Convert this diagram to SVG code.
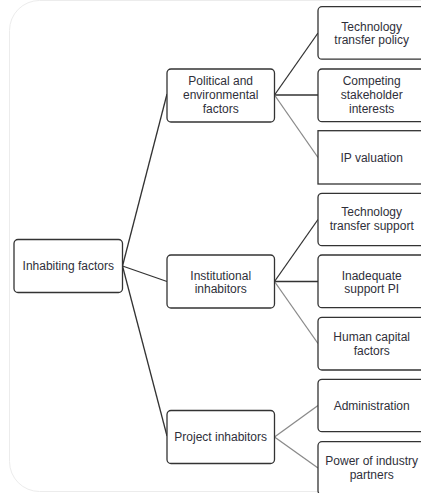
<svg xmlns="http://www.w3.org/2000/svg" width="421" height="493" viewBox="0 0 421 493">
  <style>
    .box { fill: #ffffff; stroke: #333333; stroke-width: 1.3; }
    .lbl { font-family: "Liberation Sans", Arial, sans-serif; font-size: 12px; fill: #2f2f3a; text-anchor: middle; }
    .dark { stroke: #333333; stroke-width: 1.3; fill: none; }
    .light { stroke: #8a8a8a; stroke-width: 1.3; fill: none; }
  </style>

  <!-- page card -->
  <rect x="0" y="0" width="421" height="493" fill="#ffffff"/>
  <rect x="9.5" y="0.5" width="440" height="491" rx="30" ry="30" fill="#ffffff" stroke="#ececec" stroke-width="1"/>

  <!-- connectors -->
  <g id="connectors">
    <line class="dark" x1="122.5" y1="266" x2="167" y2="94"/>
    <line class="dark" x1="122.5" y1="266" x2="167" y2="281.5"/>
    <line class="dark" x1="122.5" y1="266" x2="167" y2="436"/>

    <line class="dark" x1="274.5" y1="95" x2="318" y2="33"/>
    <line class="dark" x1="274.5" y1="95" x2="318" y2="95"/>
    <line class="light" x1="274.5" y1="95" x2="318" y2="157.5"/>

    <line class="dark" x1="274.5" y1="281.5" x2="318" y2="219.5"/>
    <line class="dark" x1="274.5" y1="281.5" x2="318" y2="281.5"/>
    <line class="light" x1="274.5" y1="281.5" x2="318" y2="343.5"/>

    <line class="light" x1="274.5" y1="437" x2="318" y2="405.5"/>
    <line class="light" x1="274.5" y1="437" x2="318" y2="468"/>
  </g>

  <!-- root -->
  <g id="inhabiting-factors">
    <rect class="box" x="14" y="239.5" width="108.5" height="53" rx="4"/>
    <text class="lbl" x="68.3" y="270">Inhabiting factors</text>
  </g>

  <!-- second level -->
  <g id="political-environmental">
    <rect class="box" x="167" y="69" width="107.5" height="53" rx="4"/>
    <text class="lbl" x="220.7" y="84.5">Political and</text>
    <text class="lbl" x="220.7" y="99">environmental</text>
    <text class="lbl" x="220.7" y="113">factors</text>
  </g>
  <g id="institutional-inhabitors">
    <rect class="box" x="167" y="255" width="107.5" height="53" rx="4"/>
    <text class="lbl" x="220.7" y="279.5">Institutional</text>
    <text class="lbl" x="220.7" y="292.5">inhabitors</text>
  </g>
  <g id="project-inhabitors">
    <rect class="box" x="167" y="410.5" width="107.5" height="53" rx="4"/>
    <text class="lbl" x="220.7" y="441">Project inhabitors</text>
  </g>

  <!-- third level -->
  <g id="tech-transfer-policy">
    <rect class="box" x="318" y="6.7" width="107.5" height="52.5" rx="4"/>
    <text class="lbl" x="371.7" y="30.5">Technology</text>
    <text class="lbl" x="371.7" y="44">transfer policy</text>
  </g>
  <g id="competing-interests">
    <rect class="box" x="318" y="69" width="107.5" height="52.7" rx="4"/>
    <text class="lbl" x="371.7" y="84.5">Competing</text>
    <text class="lbl" x="371.7" y="99">stakeholder</text>
    <text class="lbl" x="371.7" y="113">interests</text>
  </g>
  <g id="ip-valuation">
    <rect class="box" x="318" y="130.7" width="107.5" height="53.3"/>
    <text class="lbl" x="371.7" y="161.5">IP valuation</text>
  </g>
  <g id="tech-transfer-support">
    <rect class="box" x="318" y="193.3" width="107.5" height="52.4" rx="4"/>
    <text class="lbl" x="371.7" y="216">Technology</text>
    <text class="lbl" x="371.7" y="230">transfer support</text>
  </g>
  <g id="inadequate-support">
    <rect class="box" x="318" y="255" width="107.5" height="52.7" rx="4"/>
    <text class="lbl" x="371.7" y="279.5">Inadequate</text>
    <text class="lbl" x="371.7" y="293">support PI</text>
  </g>
  <g id="human-capital">
    <rect class="box" x="318" y="317.3" width="107.5" height="52.7" rx="4"/>
    <text class="lbl" x="371.7" y="341">Human capital</text>
    <text class="lbl" x="371.7" y="355">factors</text>
  </g>
  <g id="administration">
    <rect class="box" x="318" y="379.3" width="107.5" height="52.4" rx="4"/>
    <text class="lbl" x="371.7" y="410">Administration</text>
  </g>
  <g id="industry-partners">
    <rect class="box" x="318" y="441.7" width="107.5" height="53" rx="4"/>
    <text class="lbl" x="371.7" y="464.5">Power of industry</text>
    <text class="lbl" x="371.7" y="478.5">partners</text>
  </g>
</svg>
